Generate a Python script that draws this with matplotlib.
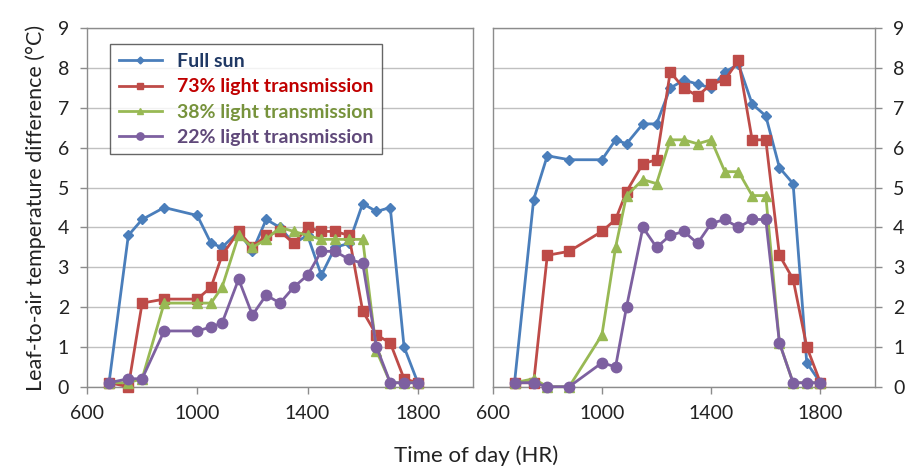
import matplotlib.pyplot as plt
from matplotlib.ticker import MultipleLocator

plt.rcParams['font.family'] = ['Lato', 'DejaVu Sans']

# time of day (HR)
times = [680, 750, 800, 880, 1000, 1050, 1090, 1150, 1200, 1250, 1300,
         1350, 1400, 1450, 1500, 1550, 1600, 1650, 1700, 1750, 1800]
x_ticks = [600, 1000, 1400, 1800]

# left panel
left_full = [0.1, 3.8, 4.2, 4.5, 4.3, 3.6, 3.5, 3.9, 3.4, 4.2, 4.0,
             3.6, 3.8, 2.8, 3.5, 3.6, 4.6, 4.4, 4.5, 1.0, 0.1]
left_73 = [0.1, 0.0, 2.1, 2.2, 2.2, 2.5, 3.3, 3.9, 3.5, 3.8, 3.9,
           3.6, 4.0, 3.9, 3.9, 3.8, 1.9, 1.3, 1.1, 0.2, 0.1]
left_38 = [0.1, 0.1, 0.2, 2.1, 2.1, 2.1, 2.5, 3.8, 3.5, 3.7, 4.0,
           3.9, 3.8, 3.7, 3.7, 3.7, 3.7, 0.9, 0.1, 0.1, 0.1]
left_22 = [0.1, 0.2, 0.2, 1.4, 1.4, 1.5, 1.6, 2.7, 1.8, 2.3, 2.1,
           2.5, 2.8, 3.4, 3.4, 3.2, 3.1, 1.0, 0.1, 0.1, 0.1]

# right panel
right_full = [0.1, 4.7, 5.8, 5.7, 5.7, 6.2, 6.1, 6.6, 6.6, 7.5, 7.7,
              7.6, 7.5, 7.9, 8.1, 7.1, 6.8, 5.5, 5.1, 0.6, 0.1]
right_73 = [0.1, 0.1, 3.3, 3.4, 3.9, 4.2, 4.9, 5.6, 5.7, 7.9, 7.5,
            7.3, 7.6, 7.7, 8.2, 6.2, 6.2, 3.3, 2.7, 1.0, 0.1]
right_38 = [0.1, 0.2, 0.0, 0.0, 1.3, 3.5, 4.8, 5.2, 5.1, 6.2, 6.2,
            6.1, 6.2, 5.4, 5.4, 4.8, 4.8, 1.1, 0.1, 0.1, 0.1]
right_22 = [0.1, 0.1, 0.0, 0.0, 0.6, 0.5, 2.0, 4.0, 3.5, 3.8, 3.9,
            3.6, 4.1, 4.2, 4.0, 4.2, 4.2, 1.1, 0.1, 0.1, 0.1]

labels = ['Full sun', '73% light transmission', '38% light transmission', '22% light transmission']
colors = ['#4a7ebb', '#be4b48', '#98b954', '#7d60a0']
text_colors = ['#1f3864', '#c00000', '#77933c', '#60497a']
markers = ['D', 's', '^', 'o']
msizes = [5, 6.5, 7, 7.5]

fig = plt.figure(figsize=(9.08, 4.72), dpi=100)
ax1 = fig.add_axes([0.0958, 0.1807, 0.4251, 0.7593])
ax2 = fig.add_axes([0.5426, 0.1807, 0.4211, 0.7593])

panels = [(ax1, [left_full, left_73, left_38, left_22]),
          (ax2, [right_full, right_73, right_38, right_22])]

for ax, series in panels:
    for vals, lab, c, m, ms in zip(series, labels, colors, markers, msizes):
        ax.plot(times, vals, color=c, marker=m, markersize=ms, lw=2.0, label=lab,
                markeredgecolor=c, clip_on=False, zorder=3)
    ax.set_xlim(600, 2000)
    ax.set_ylim(0, 9)
    ax.set_xticks(x_ticks)
    ax.yaxis.set_major_locator(MultipleLocator(1))
    ax.grid(axis='y', color='#c0c0c0', lw=1)
    ax.set_axisbelow(True)
    for sp in ax.spines.values():
        sp.set_color('#8c8c8c')
        sp.set_linewidth(1)
    ax.tick_params(direction='out', length=5, color='#8c8c8c', labelsize=14,
                   labelcolor='#222222', width=1, pad=8)

ax2.yaxis.tick_right()

ax1.set_ylabel('Leaf-to-air temperature difference (°C)', fontsize=15.5, color='#222222', labelpad=8)
fig.text(0.524, 0.012, 'Time of day (HR)', ha='center', va='bottom', fontsize=16, color='#222222')

leg = ax1.legend(loc='upper left', bbox_to_anchor=(0.06, 0.955), borderaxespad=0,
                 frameon=True, fancybox=False, edgecolor='#404040',
                 prop={'weight': 'bold', 'size': 14}, labelcolor=text_colors,
                 handlelength=2.2, markerscale=0.7, borderpad=0.45, labelspacing=0.42)
leg.get_frame().set_linewidth(1)

fig.savefig('out.png', dpi=100)
